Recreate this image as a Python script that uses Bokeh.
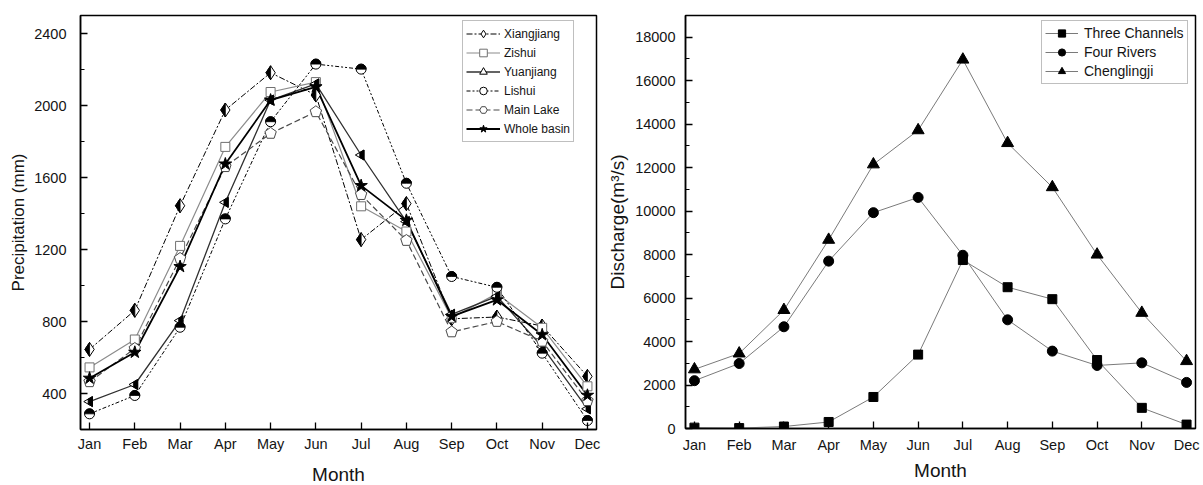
import math
from bokeh.plotting import figure
from bokeh.models import (Range1d, FixedTicker, SingleIntervalTicker, Legend,
                          LegendItem)
from bokeh.layouts import row
from bokeh.embed import file_html
from bokeh.resources import INLINE

# ---------------- data ----------------
months = ["Jan", "Feb", "Mar", "Apr", "May", "Jun",
          "Jul", "Aug", "Sep", "Oct", "Nov", "Dec"]
month_idx = list(range(1, 13))

# precipitation (mm)
xiangjiang = [645, 862, 1443, 1975, 2182, 2058, 1255, 1455, 815, 825, 775, 495]
zishui = [545, 700, 1220, 1770, 2075, 2130, 1440, 1300, 820, 955, 765, 440]
yuanjiang = [355, 450, 805, 1462, 2030, 2120, 1725, 1355, 840, 940, 660, 315]
lishui = [287, 389, 768, 1370, 1910, 2230, 2202, 1568, 1050, 990, 624, 250]
main_lake = [465, 650, 1150, 1660, 1845, 1965, 1505, 1250, 742, 800, 690, 360]
whole_basin = [485, 629, 1105, 1675, 2030, 2104, 1555, 1362, 828, 920, 726, 390]

# discharge (m3/s)
three_channels = [40, 20, 90, 300, 1450, 3400, 7750, 6500, 5950, 3150, 950, 180]
four_rivers = [2200, 2990, 4680, 7700, 9930, 10630, 7970, 5000, 3560, 2900, 3020, 2120]
chenglingji = [2720, 3450, 5450, 8680, 12150, 13720, 16970, 13130, 11100, 8000, 5320, 3100]

FONT = "Liberation Sans"
X0, X1 = 0.8, 12.2

# left panel geometry
L_FW, L_FH = 516, 414
L_Y0, L_Y1 = 200, 2500
# right panel geometry
R_FW, R_FH = 510, 413
R_Y0, R_Y1 = 0, 19000


def make_fig(fw, fh, y0, y1, bl, br, bt, bb):
    p = figure(frame_width=fw, frame_height=fh,
               x_range=Range1d(X0, X1), y_range=Range1d(y0, y1),
               output_backend="svg", toolbar_location=None,
               min_border_left=bl, min_border_right=br,
               min_border_top=bt, min_border_bottom=bb)
    p.background_fill_color = "white"
    p.border_fill_color = "white"
    p.outline_line_color = "black"
    p.outline_line_width = 1.5
    p.xgrid.visible = False
    p.ygrid.visible = False
    return p


def style_axes(p, xlabel, ylabel, y_interval, xt_stand, yt_stand,
               xl_stand, yl_stand, ylabel_size):
    p.xaxis.ticker = FixedTicker(ticks=month_idx, minor_ticks=[])
    p.xaxis.major_label_overrides = {i: m for i, m in zip(month_idx, months)}
    p.yaxis.ticker = SingleIntervalTicker(interval=y_interval, num_minor_ticks=2)
    for ax in (p.xaxis[0], p.yaxis[0]):
        ax.axis_line_color = "black"
        ax.axis_line_width = 1.5
        ax.major_tick_line_color = "black"
        ax.major_tick_line_width = 1.3
        ax.minor_tick_line_color = "black"
        ax.minor_tick_line_width = 1.2
        ax.major_tick_in = 7
        ax.major_tick_out = 0
        ax.minor_tick_in = 4
        ax.minor_tick_out = 0
        ax.major_label_text_font = FONT
        ax.major_label_text_font_size = "14.5px"
        ax.major_label_text_color = "#141414"
        ax.axis_label_text_font = FONT
        ax.axis_label_text_font_style = "normal"
        ax.axis_label_text_color = "#141414"
    p.xaxis.axis_label = xlabel
    p.yaxis.axis_label = ylabel
    p.xaxis.major_label_standoff = xt_stand
    p.yaxis.major_label_standoff = yt_stand
    p.xaxis.axis_label_standoff = xl_stand
    p.yaxis.axis_label_standoff = yl_stand
    p.xaxis.axis_label_text_font_size = "19px"
    p.yaxis.axis_label_text_font_size = ylabel_size


def shape_patches(xv, yv, shape, dxp, dyp):
    xs = [[x + sx * dxp for sx, sy in shape] for x in xv]
    ys = [[y + sy * dyp for sx, sy in shape] for y in yv]
    return xs, ys


# ---------------- left: precipitation ----------------
p1 = make_fig(L_FW, L_FH, L_Y0, L_Y1, bl=80, br=8, bt=13, bb=57)
style_axes(p1, "Month", "Precipitation (mm)", 400,
           xt_stand=6, yt_stand=14, xl_stand=9, yl_stand=3, ylabel_size="17px")

dxp = (X1 - X0) / L_FW
dyp = (L_Y1 - L_Y0) / L_FH

ln_x = p1.line(month_idx, xiangjiang, line_color="black", line_width=1,
               line_dash="6 2 2 2")
ln_z = p1.line(month_idx, zishui, line_color="#8c8c8c", line_width=1.2)
ln_y = p1.line(month_idx, yuanjiang, line_color="#303030", line_width=1.3)
ln_l = p1.line(month_idx, lishui, line_color="black", line_width=1,
               line_dash="4 2 2 2 2 2")
ln_m = p1.line(month_idx, main_lake, line_color="#4a4a4a", line_width=1.2,
               line_dash="6 3")
ln_w = p1.line(month_idx, whole_basin, line_color="black", line_width=1.8)

# Xiangjiang: diamond, left half black
mk_x = p1.scatter(month_idx, xiangjiang, marker="diamond", size=14,
                  fill_color="white", line_color="black", line_width=1)
r_d = 7.0
half_diamond = [(0, r_d), (-r_d / 1.5, 0), (0, -r_d)]
xs, ys = shape_patches(month_idx, xiangjiang, half_diamond, dxp, dyp)
p1.patches(xs, ys, fill_color="black", line_color="black", line_width=0.8)

# Zishui: open square
mk_z = p1.scatter(month_idx, zishui, marker="square", size=9,
                  fill_color="white", line_color="#707070", line_width=1)

# Yuanjiang: left-pointing triangle, right half black
mk_y = p1.scatter(month_idx, yuanjiang, marker="triangle", size=10,
                  angle=math.pi / 2, fill_color="white", line_color="black",
                  line_width=1)
r_t = 5.0
h_t = r_t * math.sqrt(3)
half_tri = [(-h_t / 6, r_t / 2), (h_t / 3, r_t), (h_t / 3, -r_t), (-h_t / 6, -r_t / 2)]
xs, ys = shape_patches(month_idx, yuanjiang, half_tri, dxp, dyp)
p1.patches(xs, ys, fill_color="black", line_color="black", line_width=0.8)

# Lishui: circle, upper half black
mk_l = p1.scatter(month_idx, lishui, marker="circle", size=10,
                  fill_color="white", line_color="black", line_width=1)
p1.wedge(month_idx, lishui, radius=5, radius_units="screen",
         start_angle=0, end_angle=math.pi, fill_color="black",
         line_color="black", line_width=0.8)

# Main Lake: open pentagon
mk_m = p1.scatter(month_idx, main_lake, marker="hex", size=8,
                  fill_color="white", line_color="#4a4a4a", line_width=1)
R_p = 6.0
pentagon = [(R_p * math.cos(math.radians(90 + 72 * k)),
             R_p * math.sin(math.radians(90 + 72 * k))) for k in range(5)]
xs, ys = shape_patches(month_idx, main_lake, pentagon, dxp, dyp)
p1.patches(xs, ys, fill_color="white", line_color="#4a4a4a", line_width=1)

# Whole basin: black star
mk_w = p1.scatter(month_idx, whole_basin, marker="star", size=13,
                  fill_color="black", line_color="black", line_width=1)

leg1 = Legend(items=[
    LegendItem(label="Xiangjiang", renderers=[ln_x, mk_x]),
    LegendItem(label="Zishui", renderers=[ln_z, mk_z]),
    LegendItem(label="Yuanjiang", renderers=[ln_y, mk_y]),
    LegendItem(label="Lishui", renderers=[ln_l, mk_l]),
    LegendItem(label="Main Lake", renderers=[ln_m, mk_m]),
    LegendItem(label="Whole basin", renderers=[ln_w, mk_w]),
], location=(382, L_FH - 6 - 121))
leg1.border_line_color = "#7f7f7f"
leg1.border_line_width = 1
leg1.background_fill_color = "white"
leg1.background_fill_alpha = 1
leg1.label_text_font = FONT
leg1.label_text_font_size = "12px"
leg1.label_text_color = "#141414"
leg1.glyph_width = 34
leg1.glyph_height = 19
leg1.label_height = 19
leg1.spacing = 0
leg1.padding = 3
leg1.margin = 0
leg1.label_standoff = 4
p1.add_layout(leg1)

# ---------------- right: discharge ----------------
p2 = make_fig(R_FW, R_FH, R_Y0, R_Y1, bl=79, br=9, bt=15, bb=56)
style_axes(p2, "Month", "Discharge(m\u00b3/s)", 2000,
           xt_stand=8, yt_stand=10, xl_stand=4, yl_stand=4, ylabel_size="19px")

GRAY = "#7a7a7a"
l_tc = p2.line(month_idx, three_channels, line_color=GRAY, line_width=1)
l_fr = p2.line(month_idx, four_rivers, line_color=GRAY, line_width=1)
l_cl = p2.line(month_idx, chenglingji, line_color=GRAY, line_width=1)
m_tc = p2.scatter(month_idx, three_channels, marker="square", size=9,
                  fill_color="black", line_color="black")
m_fr = p2.scatter(month_idx, four_rivers, marker="circle", size=10,
                  fill_color="black", line_color="black")
m_cl = p2.scatter(month_idx, chenglingji, marker="triangle", size=12,
                  fill_color="black", line_color="black")

leg2 = Legend(items=[
    LegendItem(label="Three Channels", renderers=[l_tc, m_tc]),
    LegendItem(label="Four Rivers", renderers=[l_fr, m_fr]),
    LegendItem(label="Chenglingji", renderers=[l_cl, m_cl]),
], location=(356, R_FH - 9 - 60))
leg2.border_line_color = "#7f7f7f"
leg2.border_line_width = 1
leg2.background_fill_color = "white"
leg2.background_fill_alpha = 1
leg2.label_text_font = FONT
leg2.label_text_font_size = "14px"
leg2.label_text_color = "#141414"
leg2.glyph_width = 33
leg2.glyph_height = 18
leg2.label_height = 18
leg2.spacing = 1
leg2.padding = 3
leg2.margin = 0
leg2.label_standoff = 6
p2.add_layout(leg2)

layout = row(p1, p2)
open("out.html", "w").write(file_html(layout, INLINE))
